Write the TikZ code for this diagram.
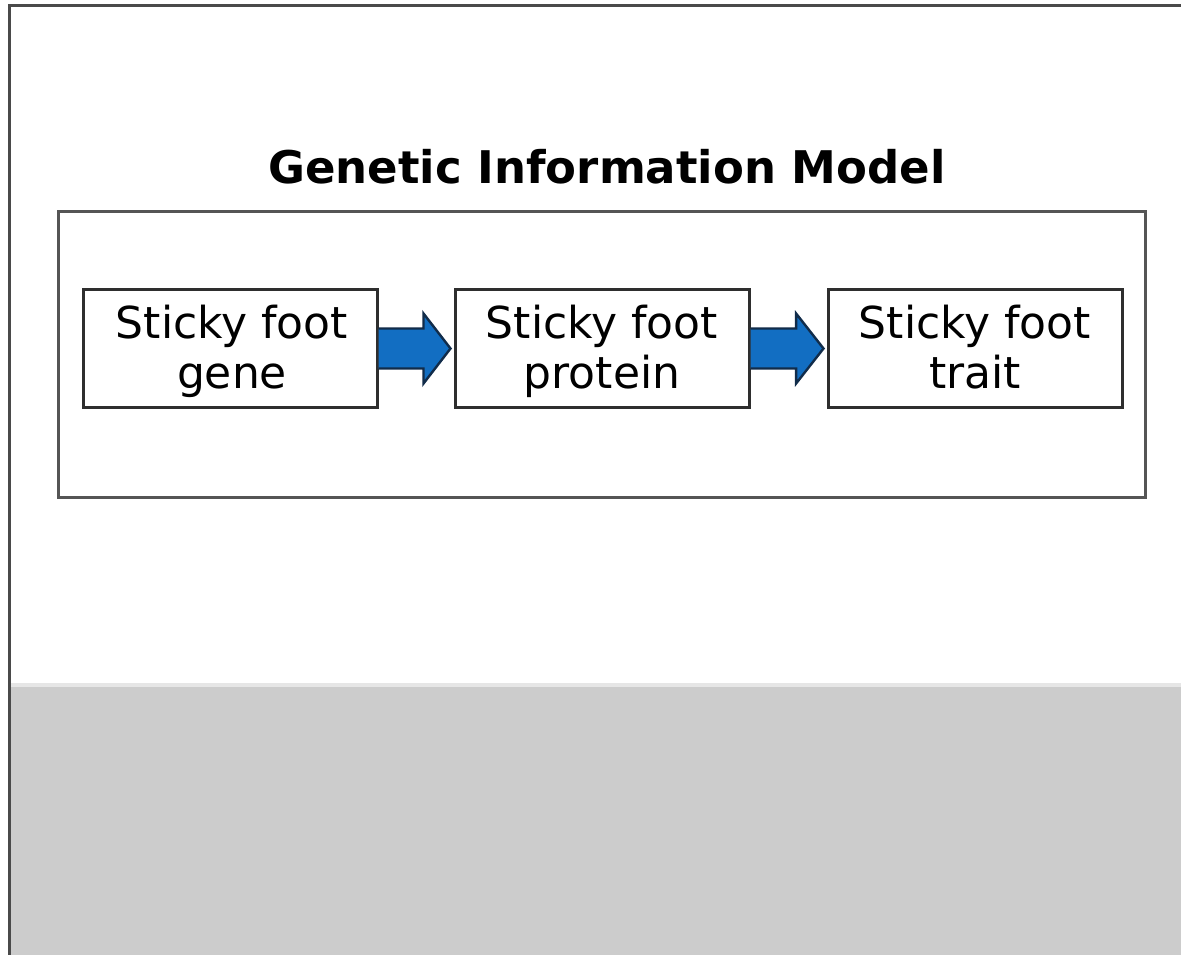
\documentclass[tikz,border=0pt]{standalone}
\usepackage{fontspec}
\setmainfont{DejaVu Sans}
\usetikzlibrary{calc}
\definecolor{framegray}{HTML}{4A4A4A}
\definecolor{panelgray}{HTML}{CCCCCC}
\definecolor{bandgray}{HTML}{E6E6E6}
\definecolor{boxline}{HTML}{2E2E2E}
\definecolor{outerline}{HTML}{555555}
\definecolor{arrowfill}{HTML}{126EC2}
\definecolor{arrowline}{HTML}{112C4A}
\newcommand{\linestrut}{\vphantom{Skfgp}}
\tikzset{
  stepbox/.style={draw=boxline, line width=3pt, fill=white, minimum width=294pt,
    minimum height=118pt, inner sep=0pt},
  steptext/.style={align=center, inner sep=0pt, font=\fontsize{44}{50}\selectfont},
  flowarrow/.style={fill=arrowfill, draw=arrowline, line width=2.4pt, line join=miter},
}
\begin{document}
\begin{tikzpicture}[x=1pt, y=-1pt]
  \useasboundingbox (0,0) rectangle (1181,955);
  \fill[white] (0,0) rectangle (1181,955);
  % lower grey panel
  \fill[bandgray] (11,683) rectangle (1181,688);
  \fill[panelgray] (11,687) rectangle (1181,955);
  % slide frame (runs off the right and bottom edges)
  \begin{scope}
    \clip (0,0) rectangle (1181,955);
    \draw[framegray, line width=3pt] (9.5,6) rectangle (1200,980);
  \end{scope}
  % title
  \node[font=\bfseries\fontsize{45}{50}\selectfont, anchor=base] (title) at (607,183) {Genetic Information Model};
  % enclosing box
  \node[draw=outerline, line width=3pt, minimum width=1087pt, minimum height=286pt, inner sep=0pt] (model) at (601.5,354.5) {};
  % three steps
  \node[stepbox] (gene) at (230,348.5) {};
  \node[stepbox] (protein) at (602,348.5) {};
  \node[stepbox] (trait) at (975,348.5) {};
  \node[steptext] (gene-label) at ($(gene.center)+(2,3)$) {Sticky foot\linestrut\\gene\linestrut};
  \node[steptext] (protein-label) at ($(protein.center)+(0,3)$) {Sticky foot\linestrut\\protein\linestrut};
  \node[steptext] (trait-label) at ($(trait.center)+(0,3)$) {Sticky foot\linestrut\\trait\linestrut};
  % block arrows between the steps
  \foreach \a/\b in {gene/protein, protein/trait}{
    \draw[flowarrow]
      ($(\a.east)+(0,-20)$) -- ($(\a.east)!0.6!(\b.west)+(0,-20)$)
      -- ($(\a.east)!0.6!(\b.west)+(0,-35)$) -- ($(\b.west)+(-3,0)$)
      -- ($(\a.east)!0.6!(\b.west)+(0,35)$) -- ($(\a.east)!0.6!(\b.west)+(0,20)$)
      -- ($(\a.east)+(0,20)$);
  }
\end{tikzpicture}
\end{document}
